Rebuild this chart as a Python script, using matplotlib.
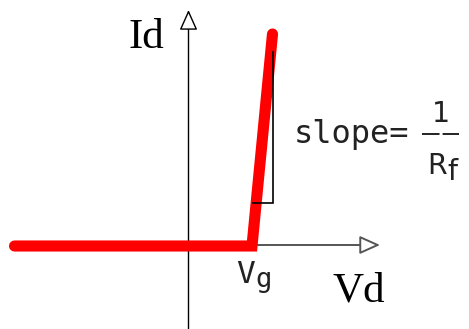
import matplotlib
matplotlib.use("Agg")
import matplotlib.pyplot as plt
from matplotlib.patches import FancyArrowPatch

# Piecewise-linear diode characteristic (ideal diode with offset Vg and forward resistance Rf)
vd = [-1.74, 0.635, 0.84]
id_ = [0.0, 0.0, 2.12]
vg = 0.635

# Slope marker (run / rise triangle on the forward branch)
tri_x = [0.642, 0.845, 0.845]
tri_y = [0.43, 0.43, 1.94]

# Axis extents
x_axis = (-1.74, 1.915)
y_axis = (-0.9, 2.36)

fig = plt.figure(figsize=(4.69, 3.29), dpi=100)
ax = fig.add_axes([0, 0, 1, 1])
ax.set_xlim(-1.885, 2.805)
ax.set_ylim(-0.83, 2.46)
ax.set_aspect("equal")
ax.axis("off")

# Axes with open arrowheads
for (a, b, col, lw) in [((x_axis[0], 0.01), (x_axis[1], 0.01), "#555555", 1.4),
                         ((0.0, y_axis[0]), (0.0, y_axis[1]), "black", 1.0)]:
    arr = FancyArrowPatch(a, b, arrowstyle="-|>,head_length=12.5,head_width=5.6",
                          mutation_scale=1, shrinkA=0, shrinkB=0,
                          fc="white", ec=col, lw=lw, zorder=1)
    ax.add_patch(arr)

# Characteristic curve
ax.plot(vd, id_, color="#ff0000", lw=8, solid_capstyle="round",
        solid_joinstyle="miter", zorder=2)

# Slope triangle
ax.plot(tri_x, tri_y, color="black", lw=1.2, zorder=3,
        solid_joinstyle="miter")

serif = "Liberation Serif"
mono = "DejaVu Sans Mono"
sans = "DejaVu Sans"
ink = "#222222"
ax.text(-0.605, 1.98, "Id", family=serif, fontsize=31, ha="left", va="baseline")
ax.text(1.44, -0.56, "Vd", family=serif, fontsize=31, ha="left", va="baseline")

# slope = 1 / Rf
ax.text(1.055, 1.03, "slope=", family=mono, fontsize=23, ha="left", va="baseline", color=ink)
ax.text(2.525, 1.24, "1", family=sans, fontsize=20.5, ha="center", va="baseline", color=ink)
ax.plot([2.335, 2.705], [1.12, 1.12], color=ink, lw=1.4,
        linestyle=(0, (9.0, 1.6)), dash_capstyle="butt")
ax.text(2.385, 0.72, "R", family=sans, fontsize=20.5, ha="left", va="baseline", color=ink)
ax.text(2.585, 0.66, "f", family=sans, fontsize=20.5, ha="left", va="baseline", color=ink)

ax.text(vg - 0.16, -0.37, "V", family=mono, fontsize=22.5, ha="left", va="baseline", color=ink)
ax.text(vg + 0.035, -0.41, "g", family=mono, fontsize=19.5, ha="left", va="baseline", color=ink)

fig.savefig("out.png", dpi=100)
